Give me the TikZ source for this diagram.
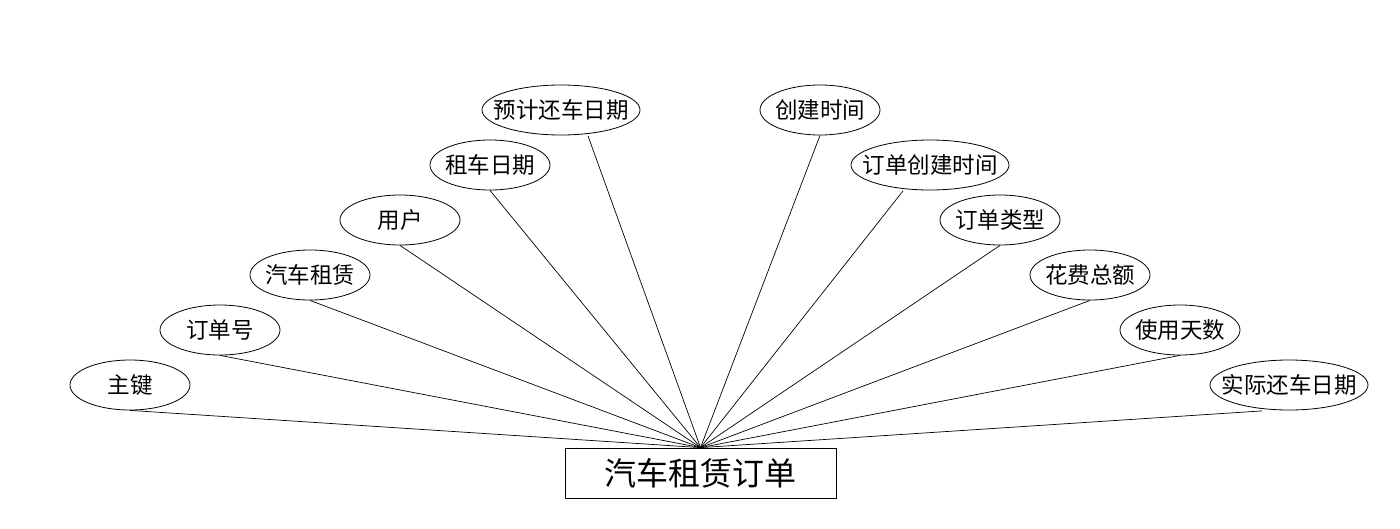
\documentclass[tikz,border=0pt]{standalone}
\usepackage{fontspec}
\setmainfont{Noto Sans CJK SC}
\usetikzlibrary{shapes.geometric}
\begin{document}
\begin{tikzpicture}[x=1pt,y=-1pt,
  attr/.style={draw,ellipse,line width=0.8pt,minimum width=120pt,minimum height=50pt,inner xsep=-4pt,inner ysep=0pt,font=\fontsize{22.5}{22.5}\selectfont},
  wide/.style={minimum width=158pt,inner xsep=-13pt},
  ent/.style={draw,rectangle,line width=0.8pt,minimum width=271pt,minimum height=50pt,inner sep=0pt,font=\fontsize{32}{32}\selectfont},
  conn/.style={line width=0.7pt}]
\useasboundingbox (0,0) rectangle (1400,528);
\node[ent] (E) at (700.5,473) {汽车租赁订单};
\node[attr] (a1) at (130,385) {主键};
\node[attr] (a2) at (220,330) {订单号};
\node[attr] (a3) at (310,275) {汽车租赁};
\node[attr] (a4) at (400,220) {用户};
\node[attr] (a5) at (490,165) {租车日期};
\node[attr,wide] (a6) at (561,110) {预计还车日期};
\node[attr] (b1) at (820,110) {创建时间};
\node[attr,wide] (b2) at (930,165) {订单创建时间};
\node[attr] (b3) at (1000,220) {订单类型};
\node[attr] (b4) at (1090,275) {花费总额};
\node[attr] (b5) at (1180,330) {使用天数};
\node[attr,wide] (b6) at (1289,385) {实际还车日期};
\coordinate (p6) at ([xshift=27pt,yshift=-0.5pt]a6.south);
\coordinate (q2) at ([xshift=-27pt,yshift=-0.5pt]b2.south);
\coordinate (q6) at ([xshift=-27pt,yshift=-0.5pt]b6.south);
\foreach \n in {a1,a2,a3,a4,a5,b1,b3,b4,b5}
  \draw[conn] (\n.south) -- (E.north);
\foreach \n in {p6,q2,q6}
  \draw[conn] (\n) -- (E.north);
\end{tikzpicture}
\end{document}
